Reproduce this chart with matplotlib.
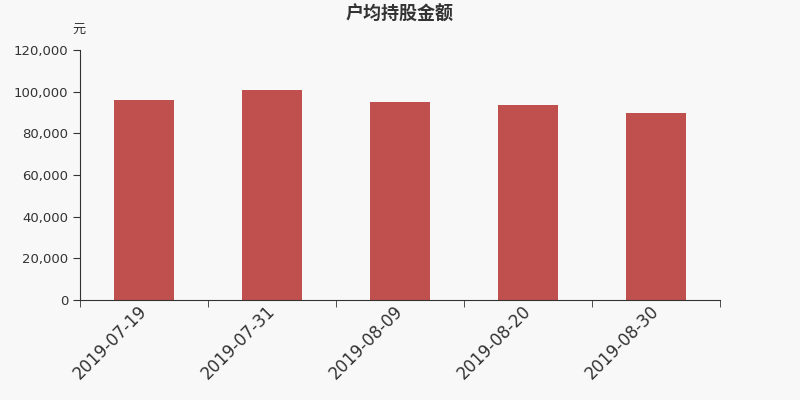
import matplotlib
matplotlib.use("Agg")
import matplotlib.pyplot as plt
import numpy as np

plt.rcParams['font.family'] = ['DejaVu Sans', 'Noto Sans CJK SC']

dates = ["2019-07-19", "2019-07-31", "2019-08-09", "2019-08-20", "2019-08-30"]
values = [96000, 100600, 95000, 93400, 90000]
yticks = [0, 20000, 40000, 60000, 80000, 100000, 120000]

bg = "#f8f8f8"
fig = plt.figure(figsize=(8, 4), dpi=100, facecolor=bg)
ax = fig.add_axes([0.1, 0.25, 0.8, 0.625], facecolor=bg)

x = np.arange(len(dates))
ax.bar(x, values, width=0.47, color="#c0504d", zorder=2)

ax.set_xlim(-0.5, len(dates) - 0.5)
ax.set_ylim(0, 120000)
ax.set_yticks(yticks)
ax.set_yticklabels([f"{v:,}" for v in yticks], fontsize=9.5, color="#333333")
ax.set_xticks(x)
ax.set_xticklabels(dates, rotation=45, ha="right", va="center", rotation_mode="anchor",
                   fontsize=12, color="#333333")
ax.tick_params(axis="x", length=0, pad=6)
ax.set_xticks(np.arange(-0.5, len(dates)), minor=True)
ax.tick_params(axis="x", which="minor", length=5, color="#333333")
ax.tick_params(axis="y", length=5, color="#333333")

for s in ["top", "right"]:
    ax.spines[s].set_visible(False)
for s in ["left", "bottom"]:
    ax.spines[s].set_color("#333333")

fig.text(0.5, 0.965, "户均持股金额", ha="center", va="center", fontsize=13,
         fontweight="bold", color="#333333", family="Noto Sans CJK SC")
fig.text(0.099, 0.928, "元", ha="center", va="center", fontsize=9.5,
         color="#333333", family="Noto Sans CJK SC")

fig.savefig("out.png", dpi=100, facecolor=bg)
